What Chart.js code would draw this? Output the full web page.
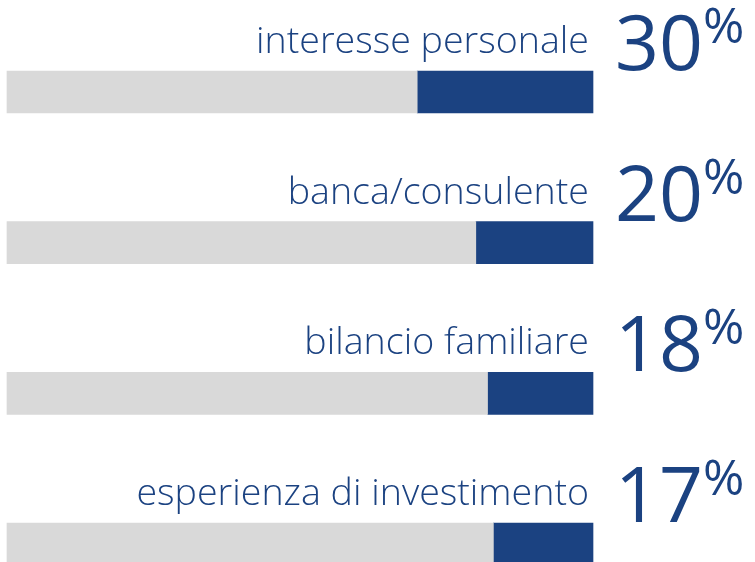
<!DOCTYPE html>
<html lang="it">
<head>
<meta charset="utf-8">
<title>Fattori di scelta</title>
<script src="https://cdn.jsdelivr.net/npm/chart.js@4/dist/chart.umd.min.js"></script>
<style>
  html, body { margin: 0; padding: 0; background: #ffffff; overflow: hidden; }
  #wrap { width: 755px; height: 562px; }
</style>
</head>
<body>
<div id="wrap"><canvas id="chart" width="755" height="562"></canvas></div>
<script>
// Categories and shares (percent)
const categories = [
  'interesse personale',
  'banca/consulente',
  'bilancio familiare',
  'esperienza di investimento'
];
const shares = [30, 20, 18, 17];
const total = 100;

const BLUE = '#1B4281';
const GREY = '#D9D9D9';

// Remainder of each track, drawn in grey to the left of the blue share
const remainders = shares.map(v => total - v);

// Draws the category caption above each bar and the big percentage to its right
const captionPlugin = {
  id: 'captions',
  afterDatasetsDraw(chart) {
    const ctx = chart.ctx;
    const area = chart.chartArea;
    const meta = chart.getDatasetMeta(1);

    ctx.save();
    ctx.fillStyle = BLUE;
    ctx.textBaseline = 'alphabetic';

    // caption font, narrowed horizontally to a condensed look
    const capFont = '300 37px "Open Sans", "Liberation Sans", sans-serif';
    ctx.font = capFont;
    const capScale = 333 / ctx.measureText(categories[0]).width;

    const numFont = '400 77px "Open Sans", "Liberation Sans", sans-serif';
    const pctFont = '400 50px "Open Sans", "Liberation Sans", sans-serif';

    meta.data.forEach((bar, i) => {
      const top = bar.y - bar.height / 2;

      // caption, right-aligned just inside the track end
      ctx.font = capFont;
      ctx.textAlign = 'right';
      ctx.save();
      ctx.translate(area.right - 4, top - 18);
      ctx.scale(capScale, 1);
      ctx.fillText(categories[i], 0, 0);
      ctx.restore();

      // big number
      const numLeft = area.right + 22;
      const numBase = top - 1;
      ctx.font = numFont;
      ctx.textAlign = 'left';
      const numText = String(shares[i]);
      const numInkRight = ctx.measureText(numText).actualBoundingBoxRight;
      ctx.fillText(numText, numLeft, numBase);

      // raised percent sign
      ctx.font = pctFont;
      const pctLeftBearing = -ctx.measureText('%').actualBoundingBoxLeft;
      ctx.fillText('%', numLeft + numInkRight + 5 - pctLeftBearing, numBase - 27);
    });
    ctx.restore();
  }
};

new Chart(document.getElementById('chart'), {
  type: 'bar',
  data: {
    labels: categories,
    datasets: [
      {
        label: 'resto',
        data: remainders,
        backgroundColor: GREY,
        borderWidth: 0,
        barThickness: 42,
        clip: false
      },
      {
        label: 'quota',
        data: shares,
        backgroundColor: BLUE,
        borderWidth: 0,
        barThickness: 42,
        clip: false
      }
    ]
  },
  options: {
    indexAxis: 'y',
    responsive: false,
    animation: false,
    layout: { padding: { left: 7, right: 162, top: 92, bottom: 18 } },
    scales: {
      x: { stacked: true, min: 0, max: total, display: false },
      y: { type: 'category', stacked: true, offset: false, display: false }
    },
    plugins: {
      legend: { display: false },
      tooltip: { enabled: false }
    }
  },
  plugins: [captionPlugin]
});
</script>
</body>
</html>
